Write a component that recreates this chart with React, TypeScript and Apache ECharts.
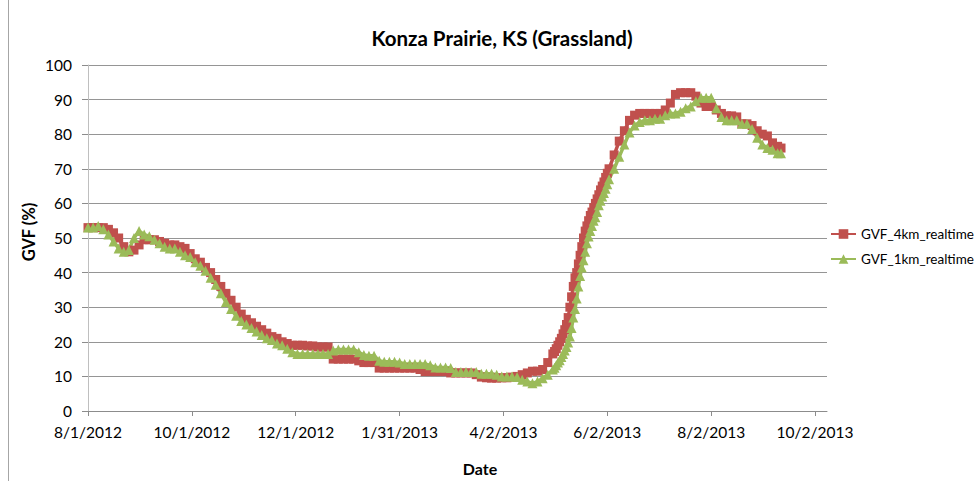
import React, { useEffect, useRef } from "react";
import * as echarts from "echarts";

// Day offsets from 8/1/2012
const days: number[] = [
  0, 3, 6, 9, 12, 15, 18, 21, 24, 27, 30, 33, 36, 39, 42, 45, 48, 51, 54, 57,
  60, 63, 66, 69, 72, 75, 78, 81, 84, 87, 90, 93, 96, 99, 102, 105, 108, 111, 114, 117,
  120, 123, 126, 129, 132, 135, 138, 141, 144, 147, 150, 153, 156, 159, 162, 165, 168, 171, 174, 177,
  180, 183, 186, 189, 192, 195, 198, 201, 204, 207, 210, 213, 216, 219, 222, 225, 228, 231, 234, 237,
  240, 243, 246, 249, 252, 255, 258, 261, 264, 267, 270, 273,
  274, 275, 276, 277, 278, 279, 280, 281, 282, 283, 284, 285, 286, 287, 288, 289, 290,
  291, 292, 293, 294, 295, 296, 297, 298, 299, 300, 301, 302, 303, 304, 305, 306,
  309, 312, 315, 318, 321, 324, 327, 330, 333, 336, 339, 342, 345, 348, 351, 354, 357,
  360, 363, 366, 369, 372, 375, 378, 381, 384, 387, 390, 393, 396, 399, 402, 405, 407,
];

const gvf4km: number[] = [
  53, 53, 53, 53, 52.5, 51.5, 50, 47.5, 46, 46.5, 48, 49.5, 49.5, 49.5, 49, 48.5, 48, 48, 47.5, 47,
  45.5, 44, 43, 41.5, 40, 38, 36, 34, 32, 30, 28, 26.5, 25.5, 24.5, 23.5, 22.5, 21.5, 21, 20, 19.5,
  19, 19, 19, 18.8, 18.8, 18.5, 18.5, 18.5, 15, 15, 15, 15, 15, 14.5, 14, 14, 14, 12.4, 12.4, 12.4,
  12.4, 12.4, 12.4, 12.4, 12.4, 12, 11.4, 11.4, 11.4, 11.4, 11.4, 11, 11, 11, 11, 11, 10.5, 9.8, 9.6, 9.5,
  9.5, 9.6, 9.6, 9.8, 10, 10.5, 11, 11.5, 11.5, 12, 14, 16.5,
  17.2, 18, 19, 20, 21, 22.3, 23.5, 25, 27, 30, 33, 36, 38.5, 40, 42.5, 45, 47.5,
  50, 52, 53.5, 55, 56.5, 57.5, 58.8, 60, 61.3, 62.5, 63.9, 65, 66.2, 67.5, 68.7, 70,
  74, 78, 81, 84, 85.5, 86, 86, 86, 86, 86, 87, 89, 91.5, 92, 92, 92, 91,
  89, 88, 88, 87, 86, 85.3, 85.3, 85, 83, 83, 82.5, 81, 80, 79.5, 77.5, 76.5, 76,
];

const gvf1km: number[] = [
  53, 53, 53.5, 52.5, 51, 49, 47, 46, 46.5, 50, 52, 51, 50.5, 49.5, 48.5, 47.5, 47, 47, 46, 45,
  44.5, 43, 42, 40.5, 38.5, 36.5, 34, 31.5, 29.5, 27.5, 26, 25, 24, 23, 22, 21, 20.5, 19.5, 19, 18,
  17, 16.5, 16.5, 16.5, 16.5, 16.5, 16.5, 16.5, 17.5, 17.8, 17.8, 17.8, 17.8, 17, 16.2, 16, 16, 14.5, 14.2, 14.2,
  14.2, 14, 13.6, 13.6, 13.6, 13.6, 13.6, 13.2, 12.6, 12.6, 12.6, 12.4, 11.3, 11.3, 11.3, 11.3, 11.3, 10.8, 10.8, 10.8,
  10.5, 10, 10, 10, 9.8, 9, 8.5, 8, 8.5, 9.5, 10.5, 12,
  12.5, 13.2, 14, 14.7, 15.6, 16.5, 17.5, 18.5, 19.8, 21.5, 24, 27, 29.5, 32.5, 36, 39, 41.5,
  43.6, 46, 48.5, 50.4, 52, 53.5, 55, 56, 57.5, 59.5, 60.8, 62, 63, 64.2, 65.5, 67,
  70, 73.5, 77, 80.5, 82.5, 83.5, 84, 84, 84.5, 84.5, 85.5, 86, 86, 86.5, 87.5, 88, 89.5,
  90.5, 90.5, 90.5, 87.5, 85, 84, 84, 84, 83, 83, 81.5, 79, 77, 76, 75.5, 74.5, 74.5,
];

const xTicks: number[] = [0, 61, 122, 183, 244, 305, 366, 427];

const BASE = Date.UTC(2012, 7, 1);
function fmtDay(d: number): string {
  const t = new Date(BASE + d * 86400000);
  return `${t.getUTCMonth() + 1}/${t.getUTCDate()}/${t.getUTCFullYear()}`;
}

export default function App() {
  const ref = useRef<HTMLDivElement>(null);
  useEffect(() => {
    if (!ref.current) return;
    const chart = echarts.init(ref.current, undefined, { renderer: "svg" });
    const font = "Lato, 'Open Sans', sans-serif";
    chart.setOption({
      animation: false,
      backgroundColor: "#ffffff",
      textStyle: { fontFamily: font },
      graphic: [
        { type: "line", shape: { x1: 8.5, y1: 0, x2: 8.5, y2: 481 }, style: { stroke: "#a6a6a6", lineWidth: 1 } },
        {
          type: "text", x: 502, y: 38,
          style: { text: "Konza Prairie, KS (Grassland)", font: `bold 20.5px ${font}`, fill: "#000", textAlign: "center", textVerticalAlign: "middle" },
        },
        {
          type: "text", x: 29, y: 232, rotation: Math.PI / 2,
          style: { text: "GVF (%)", font: `bold 16.5px ${font}`, fill: "#000", textAlign: "center", textVerticalAlign: "middle" },
        },
        {
          type: "text", x: 480, y: 468,
          style: { text: "Date", font: `bold 16px ${font}`, fill: "#000", textAlign: "center", textVerticalAlign: "middle" },
        },
      ],
      legend: {
        orient: "vertical",
        left: 830,
        top: 227,
        padding: 0,
        itemWidth: 25,
        itemHeight: 12,
        itemGap: 11,
        textStyle: { fontSize: 13.5, color: "#000", fontFamily: font },
        data: ["GVF_4km_realtime", "GVF_1km_realtime"],
      },
      grid: { left: 88, right: 150, top: 65, bottom: 70, containLabel: false },
      xAxis: {
        type: "value",
        min: 0,
        max: 434,
        interval: 61,
        axisLine: { show: true, lineStyle: { color: "#8c8c8c", width: 1 } },
        axisTick: { show: true, length: 5, lineStyle: { color: "#8c8c8c" }, customValues: xTicks },
        axisLabel: {
          customValues: xTicks,
          margin: 13,
          fontSize: 15.5,
          color: "#000",
          fontFamily: font,
          formatter: (v: number) => (xTicks.includes(v) ? fmtDay(v) : ""),
        },
        splitLine: { show: false },
      },
      yAxis: {
        type: "value",
        min: 0,
        max: 100,
        interval: 10,
        axisLine: { show: true, lineStyle: { color: "#bfbfbf", width: 1 } },
        axisTick: { show: true, length: 6, lineStyle: { color: "#8c8c8c" } },
        axisLabel: { margin: 16, fontSize: 15.5, color: "#000", fontFamily: font },
        splitLine: { show: true, lineStyle: { color: "#959595", width: 1 } },
      },
      series: [
        {
          name: "GVF_4km_realtime",
          type: "line",
          data: days.map((d, i) => [d, gvf4km[i]]),
          symbol: "rect",
          symbolSize: 9,
          showAllSymbol: true,
          color: "#C0504D",
          lineStyle: { color: "#C0504D", width: 3.5 },
          itemStyle: { color: "#C0504D", borderColor: "#C0504D", borderWidth: 0 },
        },
        {
          name: "GVF_1km_realtime",
          type: "line",
          data: days.map((d, i) => [d, gvf1km[i]]),
          symbol: "triangle",
          symbolSize: 10,
          showAllSymbol: true,
          color: "#9BBB59",
          lineStyle: { color: "#9BBB59", width: 3.5 },
          itemStyle: { color: "#9BBB59", borderColor: "#9BBB59", borderWidth: 0 },
        },
      ],
    });
    return () => chart.dispose();
  }, []);
  return (
    <div
      ref={ref}
      style={{ position: "fixed", left: 0, top: 0, width: 977, height: 481 }}
    />
  );
}
